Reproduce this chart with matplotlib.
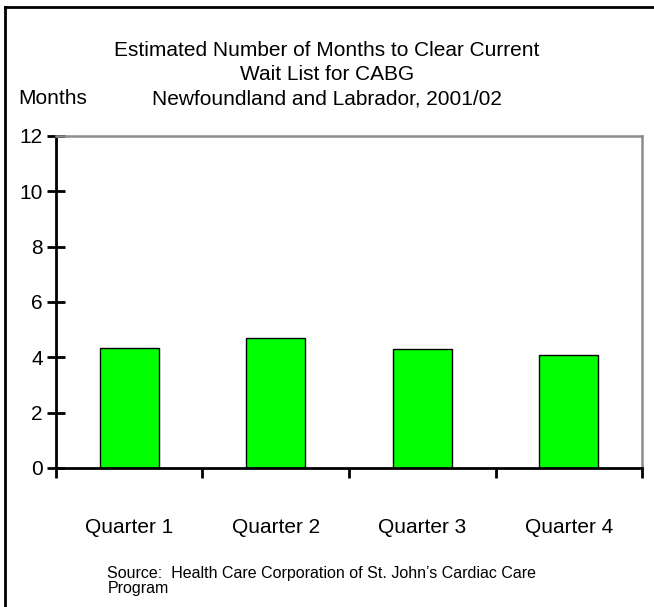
import matplotlib.pyplot as plt
from matplotlib.lines import Line2D

plt.rcParams['font.family'] = ['Liberation Sans', 'DejaVu Sans']

quarters = ['Quarter 1', 'Quarter 2', 'Quarter 3', 'Quarter 4']
months = [4.35, 4.7, 4.3, 4.07]
yticks = [0, 2, 4, 6, 8, 10, 12]

title_lines = ['Estimated Number of Months to Clear Current',
               'Wait List for CABG',
               'Newfoundland and Labrador, 2001/02']
source = "Source:  Health Care Corporation of St. John\u2019s Cardiac Care\nProgram"

FS = 15


def drawChart():
    fig = plt.figure(figsize=(6.54, 6.07), dpi=100)
    ax = fig.add_axes([0.0856, 0.229, 0.8961, 0.547])

    x = range(len(quarters))
    ax.bar(x, months, width=0.4, color='#00ff00', edgecolor='black', linewidth=1)
    ax.set_xlim(-0.5, len(quarters) - 0.5)
    ax.set_ylim(0, 12)

    ax.set_yticks(yticks)
    ax.set_yticklabels([str(t) for t in yticks], fontsize=FS)
    ax.tick_params(axis='y', direction='inout', length=13, width=2, pad=3)

    # category labels between boundary ticks
    ax.set_xticks([i - 0.5 for i in range(len(quarters) + 1)])
    ax.set_xticklabels([])
    ax.tick_params(axis='x', direction='out', length=7, width=2)
    for i, q in enumerate(quarters):
        ax.text(i, -2.15, q, ha='center', va='center', fontsize=FS)

    for s in ['left', 'bottom']:
        ax.spines[s].set_linewidth(2)
        ax.spines[s].set_color('black')
    for s in ['top', 'right']:
        ax.spines[s].set_linewidth(1.8)
        ax.spines[s].set_color('#8c8c8c')

    for i, line in enumerate(title_lines):
        fig.text(0.5, 1 - (51 + 24 * i) / 607, line, ha='center', va='center', fontsize=FS)
    fig.text(0.028, 1 - 99 / 607, 'Months', ha='left', va='center', fontsize=FS)

    fig.text(0.164, 1 - 581 / 607, source, ha='left', va='center', fontsize=11.5, linespacing=1.0)

    # frame on left and top edges
    fig.add_artist(Line2D([0.0075, 0.0075], [0, 0.989], color='black', linewidth=2, transform=fig.transFigure))
    fig.add_artist(Line2D([0.0075, 1], [0.989, 0.989], color='black', linewidth=2, transform=fig.transFigure))

    fig.savefig('out.png', dpi=100)


def main():
    drawChart()


if __name__ == "__main__":
    main()
